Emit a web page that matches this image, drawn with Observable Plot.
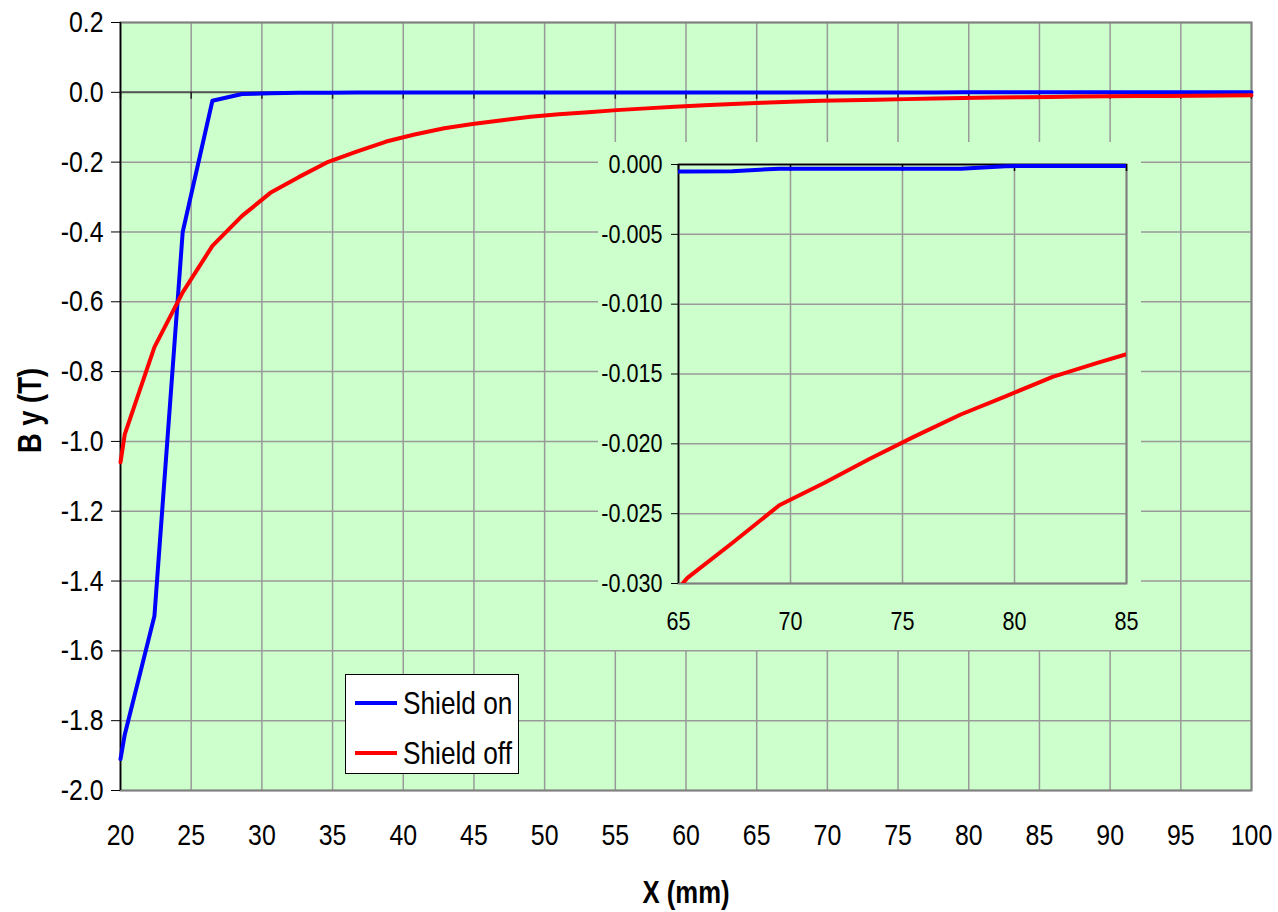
<!DOCTYPE html>
<html>
<head>
<meta charset="utf-8">
<script src="https://cdn.jsdelivr.net/npm/d3@7"></script>
<script src="https://cdn.jsdelivr.net/npm/@observablehq/plot@0.6"></script>
<style>
  body { margin: 0; background: #fff; }
  #chart { position: relative; width: 1278px; height: 912px;
    font-family: "Liberation Sans", Arial, sans-serif; }
  #chart svg { display: block; max-width: none; }
  #inset { position: absolute; left: 598px; top: 142px; width: 543px; height: 508px; }
  #legend { position: absolute; left: 345px; top: 674px; width: 174px; height: 100px;
    background: #fff; border: 1px solid #000; box-sizing: border-box; }
  #legend .row { position: absolute; left: 9px; height: 40px; display: flex; align-items: center;
    white-space: nowrap; }
  #legend .swatch { width: 42px; height: 4px; margin-right: 6px; flex: none; }
  #legend .lab { font-size: 32px; color: #000; line-height: 1; display: inline-block;
    transform: scaleX(0.82); transform-origin: left center; }
</style>
</head>
<body>
<div id="chart">
  <div id="main"></div>
  <div id="inset"></div>
  <div id="legend">
    <div class="row" style="top:8px"><div class="swatch" style="background:#0000ff"></div><span class="lab">Shield on</span></div>
    <div class="row" style="top:58px"><div class="swatch" style="background:#ff0000"></div><span class="lab">Shield off</span></div>
  </div>
</div>
<script>
// Field component By (tesla) along X (mm), with and without the shield
const xMm = [20.0, 20.3, 22.4, 24.4, 26.5, 28.6, 30.6, 32.6, 34.7, 36.7, 38.8, 40.8, 42.9, 44.9,
  47.0, 49.0, 51.0, 53.1, 55.1, 57.2, 59.2, 61.3, 63.3, 65.4, 67.4, 69.5, 71.5, 73.5, 75.5,
  77.6, 79.6, 81.7, 83.7, 85.8, 87.8, 89.8, 91.9, 93.9, 96.0, 98.0, 100.0];
const byShieldOn = [-1.91, -1.84, -1.50, -0.40, -0.024, -0.005, -0.0025, -0.0015, -0.0010,
  -0.0008, -0.0007, -0.0006, -0.0006, -0.0006, -0.0006, -0.0006, -0.0005, -0.0005, -0.0005,
  -0.0005, -0.0005, -0.0005, -0.0005, -0.0005, -0.00048, -0.0003, -0.0003, -0.0003, -0.0003,
  -0.0003, -0.00012, -0.0001, -0.0001, -0.0001, -0.0001, -0.0001, -0.0001, -0.0001, -0.0001,
  -0.0001, -0.0001];
const byShieldOff = [-1.06, -0.98, -0.73, -0.573, -0.44, -0.354, -0.288, -0.243, -0.199, -0.170,
  -0.141, -0.121, -0.103, -0.091, -0.080, -0.070, -0.063, -0.057, -0.051, -0.046, -0.041, -0.037,
  -0.0335, -0.0296, -0.0271, -0.0244, -0.0228, -0.0211, -0.0195, -0.0179, -0.0166, -0.0152,
  -0.0142, -0.0132, -0.0123, -0.0115, -0.0108, -0.0102, -0.0096, -0.0091, -0.0086];

const seriesNames = ["Shield on", "Shield off"];
const seriesColors = ["#0000ff", "#ff0000"];

const mainXTicks = [20, 25, 30, 35, 40, 45, 50, 55, 60, 65, 70, 75, 80, 85, 90, 95, 100];
const mainYTicks = [0.2, 0.0, -0.2, -0.4, -0.6, -0.8, -1.0, -1.2, -1.4, -1.6, -1.8, -2.0];
const insetXTicks = [65, 70, 75, 80, 85];
const insetYTicks = [0.000, -0.005, -0.010, -0.015, -0.020, -0.025, -0.030];

const rows = xMm.flatMap((x, i) => [
  {x, by: byShieldOn[i], series: seriesNames[0]},
  {x, by: byShieldOff[i], series: seriesNames[1]}
]);
const fontFamily = '"Liberation Sans", Arial, sans-serif';
const green = "#ccffcc";
const gridColor = "#999999";
const borderColor = "#808080";

const seriesLines = (clip) => seriesNames.map((s, k) =>
  Plot.line(rows.filter(d => d.series === s), {x: "x", y: "by", stroke: seriesColors[k],
    strokeWidth: 4, strokeLinejoin: "round", clip}));

// Narrow the lettering horizontally, keeping each text's anchor point in place
function condense(svg, k = 0.83) {
  svg.querySelectorAll("text").forEach(t => {
    const tr = t.getAttribute("transform") || "";
    t.setAttribute("transform", `${tr} scale(${k},1)`);
  });
  return svg;
}

const main = Plot.plot({
  width: 1278, height: 912,
  marginTop: 22, marginBottom: 122, marginLeft: 120, marginRight: 27,
  style: {fontFamily, background: "transparent", color: "#000"},
  x: {domain: [20, 100]},
  y: {domain: [-2.0, 0.2]},
  marks: [
    Plot.frame({fill: green, stroke: null}),
    Plot.gridX(mainXTicks, {stroke: gridColor, strokeOpacity: 1, strokeWidth: 1.5}),
    Plot.gridY(mainYTicks, {stroke: gridColor, strokeOpacity: 1, strokeWidth: 1.5}),
    Plot.frame({stroke: borderColor, strokeWidth: 2}),
    Plot.ruleY([0], {stroke: "#555", strokeWidth: 2}),
    Plot.ruleX(mainXTicks, {y1: 0, y2: -0.02, stroke: "#222", strokeWidth: 1.5}),
    Plot.ruleX([20], {stroke: "#000", strokeWidth: 1.5}),
    Plot.axisY(mainYTicks, {tickSize: 9, tickPadding: 8, fontSize: 30, stroke: "#000",
      tickFormat: d => d.toFixed(1), label: null}),
    Plot.axisX(mainXTicks, {tickSize: 0, tickPadding: 33, fontSize: 30,
      tickFormat: d => String(d), label: null}),
    ...seriesLines(false),
    Plot.text(["X (mm)"], {frameAnchor: "bottom", dy: 103, lineAnchor: "middle",
      fontSize: 31, fontWeight: "bold"}),
    Plot.text(["B y (T)"], {frameAnchor: "left", dx: -90, dy: 4, textAnchor: "middle",
      rotate: -90, fontSize: 33, fontWeight: "bold"})
  ]
});
document.getElementById("main").append(condense(main));

// Close-up of the 65–85 mm range
const inset = Plot.plot({
  width: 543, height: 508,
  marginTop: 22, marginBottom: 67, marginLeft: 80, marginRight: 15,
  style: {fontFamily, background: green, color: "#000"},
  x: {domain: [65, 85]},
  y: {domain: [-0.030, 0.000]},
  marks: [
    Plot.gridX(insetXTicks, {stroke: gridColor, strokeOpacity: 1, strokeWidth: 1.5}),
    Plot.gridY(insetYTicks, {stroke: gridColor, strokeOpacity: 1, strokeWidth: 1.5}),
    Plot.frame({stroke: borderColor, strokeWidth: 2}),
    Plot.ruleY([0], {stroke: "#000", strokeWidth: 1.5}),
    Plot.ruleX(insetXTicks, {y1: 0, y2: -0.0005, stroke: "#000", strokeWidth: 1.5}),
    Plot.ruleX([65], {stroke: "#000", strokeWidth: 1.5}),
    Plot.axisY(insetYTicks, {tickSize: 7, tickPadding: 9, fontSize: 26, stroke: "#000",
      tickFormat: d => d.toFixed(3), label: null}),
    Plot.axisX(insetXTicks, {tickSize: 0, tickPadding: 28, fontSize: 26,
      tickFormat: d => String(d), label: null}),
    ...seriesLines(true)
  ]
});
document.getElementById("inset").append(condense(inset));
</script>
</body>
</html>
